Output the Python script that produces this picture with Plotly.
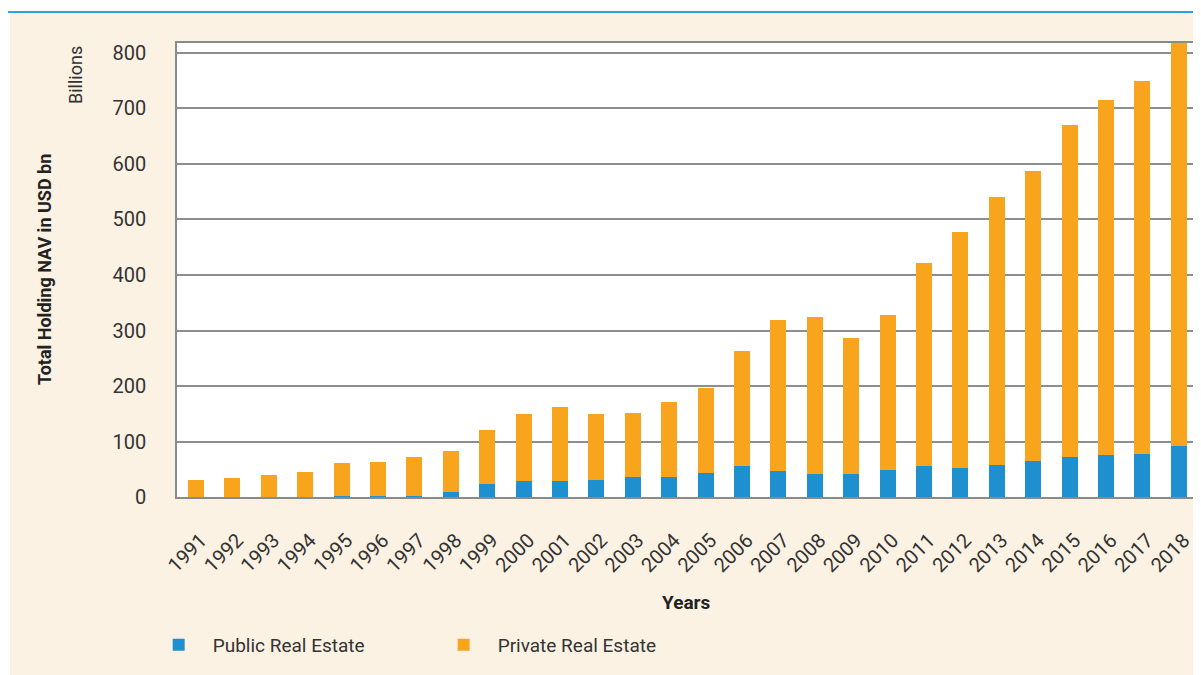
import plotly.graph_objects as go

years = [str(y) for y in range(1991, 2019)]
public_re = [0.5, 0.5, 0.5, 0.5, 2, 2, 2, 9, 23, 29, 29, 31, 36, 36,
             44, 56, 47, 42, 42, 49, 55, 53, 58, 64, 72, 76, 78, 91]
total_re = [31, 34, 40, 45, 62, 63, 72, 83, 121, 150, 162, 150, 151, 171,
            197, 263, 319, 324, 286, 328, 421, 477, 540, 587, 670, 715, 750, 820]
private_re = [t - p for t, p in zip(total_re, public_re)]

BLUE = '#1E90D0'
ORANGE = '#F8A41C'
TXT = '#333333'

# the page body adds an 8px margin; the figure runs past the window edge
# so the cream background fills it to the right and bottom
W, H = 1201, 675

fig = go.Figure()
fig.add_trace(go.Bar(x=years, y=public_re, name='Public Real Estate',
                     marker=dict(color=BLUE, line_width=0), width=0.44))
fig.add_trace(go.Bar(x=years, y=private_re, name='Private Real Estate',
                     marker=dict(color=ORANGE, line_width=0), width=0.44))

fig.update_layout(
    barmode='stack',
    width=W, height=H,
    margin=dict(l=169, r=13, t=35, b=186),
    paper_bgcolor='#FCF2E3',
    plot_bgcolor='#FFFFFF',
    font=dict(family='Roboto, sans-serif', size=18, color=TXT),
    showlegend=True,
    legend=dict(orientation='h', xref='container', yref='container',
                x=0.1138, y=0.0563, xanchor='left', yanchor='middle',
                itemwidth=58, entrywidth=212, entrywidthmode='pixels',
                font=dict(size=19, color=TXT), bgcolor='rgba(0,0,0,0)',
                traceorder='normal'),
)

fig.update_yaxes(range=[0, 818], tickvals=list(range(0, 900, 100)),
                 showgrid=True, gridcolor='#8E8E8E', gridwidth=1.5,
                 showline=True, linecolor='#8A8A8A', linewidth=1.5, mirror=True,
                 ticks='outside', ticklen=25, tickcolor='rgba(0,0,0,0)',
                 tickfont=dict(size=20, color=TXT), zeroline=False)
fig.update_xaxes(range=[-0.52, 27.47], tickangle=-45,
                 showline=True, linecolor='#8A8A8A', linewidth=1.5, mirror=True,
                 ticks='outside', ticklen=22, tickcolor='rgba(0,0,0,0)',
                 ticklabelshift=5,
                 tickfont=dict(size=20, color=TXT))

# page decoration: white strip above a blue rule, white margin on the left
top_rule = (497 - 12) / 454
fig.add_shape(type='rect', xref='paper', yref='paper',
              x0=-0.2, x1=1.02, y0=top_rule, y1=1.2,
              fillcolor='white', line_width=0, layer='below')
fig.add_shape(type='rect', xref='paper', yref='paper',
              x0=-0.2, x1=(10 - 177) / 1019, y0=-0.5, y1=1.2,
              fillcolor='white', line_width=0, layer='below')
fig.add_shape(type='line', xref='paper', yref='paper',
              x0=-0.2, x1=1.02, y0=top_rule, y1=top_rule,
              line=dict(color='#29A3DC', width=2), layer='below')

fig.add_annotation(text='Billions', xref='paper', yref='paper',
                   x=(75 - 177) / 1019, y=(497 - 75) / 454, textangle=-90,
                   xanchor='center', yanchor='middle',
                   showarrow=False, font=dict(size=18, color=TXT))
fig.add_annotation(text='<b>Total Holding NAV in USD bn</b>', xref='paper', yref='paper',
                   x=(44 - 177) / 1019, y=0.5, textangle=-90,
                   xanchor='center', yanchor='middle',
                   showarrow=False, font=dict(size=18, color='#222222'))
fig.add_annotation(text='<b>Years</b>', xref='paper', yref='paper',
                   x=0.5, y=(497 - 602) / 454, xanchor='center', yanchor='middle',
                   showarrow=False, font=dict(size=19, color='#222222'))

fig.write_html('out.html')
